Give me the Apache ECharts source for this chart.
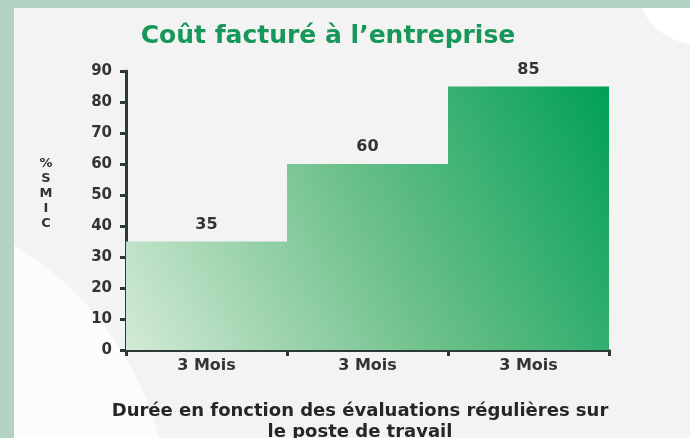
<!DOCTYPE html>
<html>
<head>
<meta charset="utf-8">
<script src="https://cdn.jsdelivr.net/npm/echarts@6/dist/echarts.min.js"></script>
<style>
  html, body { margin: 0; padding: 0; background: #b4d2c3; }
  #chart { width: 690px; height: 438px; }
</style>
</head>
<body>
<div id="chart"></div>
<script>
var categories = ['3 Mois', '3 Mois', '3 Mois'];
var values = [35, 60, 85];
var yTicks = [0, 90, 10]; // min, max, interval

var chart = echarts.init(document.getElementById('chart'));

// un seul dégradé pour toutes les barres (coordonnées globales)
var fill = new echarts.graphic.LinearGradient(126, 350, 609, 86, [
  { offset: 0, color: '#d3ead6' },
  { offset: 0.5, color: '#6cc08a' },
  { offset: 1, color: '#00a057' }
], true);

var option = {
  backgroundColor: 'transparent',
  animation: false,
  title: {
    text: 'Coût facturé à l\u2019entreprise',
    left: 323,
    textAlign: 'center',
    top: 19,
    textStyle: { color: '#17985a', fontSize: 25, fontWeight: 'bold', fontFamily: 'DejaVu Sans' }
  },
  graphic: [
    { type: 'rect', z: -10, shape: { x: 14, y: 8, width: 676, height: 430 }, style: { fill: '#f4f3f4' } },
    { type: 'circle', z: -9, shape: { cx: -150, cy: 520, r: 320 }, style: { fill: '#fcfcfc' } },
    { type: 'circle', z: -9, shape: { cx: 700, cy: -20, r: 65 }, style: { fill: '#ffffff' } },
    // bordure verte par-dessus les formes blanches
    { type: 'rect', z: -8, shape: { x: 0, y: 0, width: 14, height: 438 }, style: { fill: '#b4d2c3' } },
    { type: 'rect', z: -8, shape: { x: 0, y: 0, width: 690, height: 8 }, style: { fill: '#b4d2c3' } },
    {
      type: 'text', x: 46, y: 156,
      style: { text: '%\nS\nM\nI\nC', fill: '#333', font: 'bold 13px DejaVu Sans', lineHeight: 15, align: 'center' }
    },
    {
      type: 'text', x: 360, y: 401,
      style: {
        text: 'Durée en fonction des évaluations régulières sur\nle poste de travail',
        fill: '#262626', font: 'bold 18px DejaVu Sans', lineHeight: 21, align: 'center'
      }
    }
  ],
  grid: { left: 126, right: 81, top: 71, bottom: 88 },
  xAxis: {
    type: 'category',
    data: categories,
    axisLine: { lineStyle: { color: '#2b3a36', width: 3 } },
    axisTick: { show: true, length: 6, lineStyle: { color: '#2b3a36', width: 3 } },
    axisLabel: { color: '#333', fontWeight: 'bold', fontSize: 16, fontFamily: 'DejaVu Sans', margin: 8 }
  },
  yAxis: {
    type: 'value',
    min: yTicks[0], max: yTicks[1], interval: yTicks[2],
    splitLine: { show: false },
    axisLine: { show: true, lineStyle: { color: '#2b3a36', width: 3 } },
    axisTick: { show: true, length: 6, lineStyle: { color: '#2b3a36', width: 3 } },
    axisLabel: { color: '#333', fontWeight: 'bold', fontSize: 15, fontFamily: 'DejaVu Sans', margin: 14 }
  },
  series: [{
    type: 'bar',
    data: values,
    barWidth: '100%',
    itemStyle: { color: fill },
    label: {
      show: true, position: 'top', distance: 9,
      color: '#333', fontWeight: 'bold', fontSize: 16, fontFamily: 'DejaVu Sans'
    }
  }]
};

chart.setOption(option);
</script>
</body>
</html>
